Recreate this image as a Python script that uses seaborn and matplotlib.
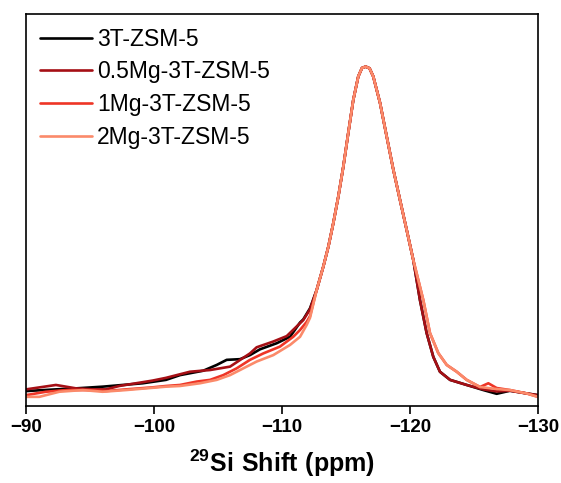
import numpy as np
import pandas as pd
import matplotlib
matplotlib.use("Agg")
import matplotlib.pyplot as plt
import seaborn as sns

# shared peak core (ppm, intensity a.u.)
core_ppm = [-112.71, -113.23, -113.62, -114.01, -114.40, -114.79, -115.18, -115.57,
            -115.96, -116.25, -116.54, -116.84, -117.13, -117.66, -118.18, -118.70,
            -119.22, -119.74, -120.26]
core_int = [34.2, 41.1, 46.9, 53.9, 61.7, 70.5, 80.5, 90.2,
            97.1, 99.6, 100.0, 99.5, 97.1, 89.3, 79.4, 69.6,
            60.7, 51.9, 43.0]

# 3T-ZSM-5
s0_left_ppm = [-90.0, -92.34, -93.91, -95.99, -97.55, -99.12, -100.94, -102.03, -103.85,
               -104.90, -105.68, -106.72, -107.50, -108.28, -109.59, -110.63, -111.41,
               -111.66, -112.19]
s0_left_int = [4.4, 4.9, 5.2, 5.7, 6.2, 6.7, 7.7, 9.1, 10.4,
               12.1, 13.6, 13.8, 15.0, 16.7, 18.5, 20.4, 24.6,
               25.5, 28.8]
s0_right_ppm = [-120.78, -121.30, -121.82, -122.34, -123.13, -124.43, -125.73, -126.77,
                -127.81, -129.12, -130.0]
s0_right_int = [31.2, 21.5, 14.5, 10.1, 7.7, 6.2, 4.7, 3.6, 4.5, 3.7, 3.2]

# 0.5Mg-3T-ZSM-5
s1_left_ppm = [-90.0, -92.34, -93.91, -95.21, -96.25, -97.29, -98.59, -99.90, -100.94,
               -102.81, -104.38, -105.94, -107.50, -108.02, -109.32, -110.37, -111.41,
               -111.66, -112.19]
s1_left_int = [4.9, 6.2, 5.2, 4.9, 4.9, 5.9, 6.7, 7.5, 8.3,
               10.1, 10.6, 11.6, 15.5, 17.3, 19.0, 20.6, 24.4,
               25.3, 28.5]
s1_right_ppm = [-120.78, -121.30, -121.82, -122.34, -123.13, -124.43, -125.73, -126.77,
                -127.81, -129.12, -130.0]
s1_right_int = [31.2, 21.5, 14.5, 10.1, 7.7, 6.2, 4.9, 4.3, 4.5, 3.7, 3.2]

# 1Mg-3T-ZSM-5
s2_left_ppm = [-90.0, -91.56, -93.13, -94.69, -96.25, -97.81, -99.90, -100.94, -102.03,
               -103.34, -104.38, -105.41, -106.46, -107.50, -108.54, -109.84, -110.88,
               -111.41, -111.93, -112.19]
s2_left_int = [3.2, 4.2, 4.7, 4.7, 4.4, 4.9, 5.5, 5.9, 6.2,
               7.2, 7.7, 9.1, 11.1, 13.6, 15.5, 17.5, 20.4,
               22.4, 24.8, 26.5]
s2_right_ppm = [-121.04, -121.56, -122.21, -122.87, -123.65, -124.43, -125.47, -126.12,
                -126.77, -127.81, -129.12, -130.0]
s2_right_int = [31.2, 21.5, 15.6, 12.1, 10.1, 7.7, 5.6, 6.7, 5.3, 4.7, 3.7, 2.7]

# 2Mg-3T-ZSM-5
s3_left_ppm = [-90.0, -91.04, -92.60, -94.43, -95.99, -97.81, -99.38, -100.94, -102.03,
               -103.59, -104.90, -105.94, -106.98, -108.02, -109.32, -110.63, -111.41,
               -111.93, -112.19]
s3_left_int = [2.7, 2.7, 4.2, 4.7, 4.2, 4.7, 5.2, 5.7, 5.9,
               6.7, 7.7, 9.1, 11.1, 13.1, 15.0, 18.0, 20.4,
               23.9, 26.0]
s3_right_ppm = [-121.04, -121.56, -122.21, -122.87, -123.65, -124.43, -125.47, -126.12,
                -126.77, -127.81, -129.12, -130.0]
s3_right_int = [31.2, 21.5, 15.6, 12.1, 10.1, 7.7, 5.6, 5.3, 5.0, 4.7, 3.7, 2.7]

labels = ["3T-ZSM-5", "0.5Mg-3T-ZSM-5", "1Mg-3T-ZSM-5", "2Mg-3T-ZSM-5"]
colors = ["#000000", "#a50f15", "#ee3526", "#fb8a6a"]

series = [
    (s0_left_ppm, s0_left_int, s0_right_ppm, s0_right_int),
    (s1_left_ppm, s1_left_int, s1_right_ppm, s1_right_int),
    (s2_left_ppm, s2_left_int, s2_right_ppm, s2_right_int),
    (s3_left_ppm, s3_left_int, s3_right_ppm, s3_right_int),
]

frames = []
for lab, (lp, li, rp, ri) in zip(labels, series):
    ppm = list(lp) + core_ppm + list(rp)
    inten = list(li) + core_int + list(ri)
    frames.append(pd.DataFrame({"ppm": ppm, "intensity": inten, "sample": lab}))
df = pd.concat(frames, ignore_index=True)

sns.set_style("ticks")
plt.rcParams["font.family"] = ["Liberation Sans", "DejaVu Sans"]
plt.rcParams["mathtext.fontset"] = "custom"
plt.rcParams["mathtext.rm"] = "Liberation Sans"
plt.rcParams["mathtext.bf"] = "Liberation Sans:bold"
plt.rcParams["text.color"] = "black"
plt.rcParams["axes.labelcolor"] = "black"
plt.rcParams["xtick.color"] = "black"
plt.rcParams["axes.edgecolor"] = "black"

fig = plt.figure(figsize=(5.61, 4.83), dpi=100)
ax = fig.add_axes([0.0463, 0.1594, 0.9127, 0.8116])

sns.lineplot(data=df, x="ppm", y="intensity", hue="sample", hue_order=labels,
             palette=colors, sort=False, estimator=None, units="sample",
             linewidth=1.9, ax=ax)

ax.set_xlim(-90, -130)
ax.set_ylim(0, 115.5)
ax.set_xticks([-90, -100, -110, -120, -130])
ax.set_yticks([])
ax.set_ylabel("")
ax.set_xlabel(r"$\mathbf{^{29}Si\ Shift\ (ppm)}$", fontsize=18, labelpad=9)
for lbl in ax.get_xticklabels():
    lbl.set_fontweight("bold")
    lbl.set_fontsize(13.5)
ax.tick_params(axis="x", direction="out", length=6, width=1.2, pad=3)
for sp in ax.spines.values():
    sp.set_linewidth(1.2)
    sp.set_visible(True)

ax.legend(loc="upper left", frameon=False, fontsize=16.5, handlelength=2.3,
          handletextpad=0.2, labelspacing=0.42, borderaxespad=0.2,
          bbox_to_anchor=(0.0, 1.0))

fig.savefig("out.png", dpi=100)
